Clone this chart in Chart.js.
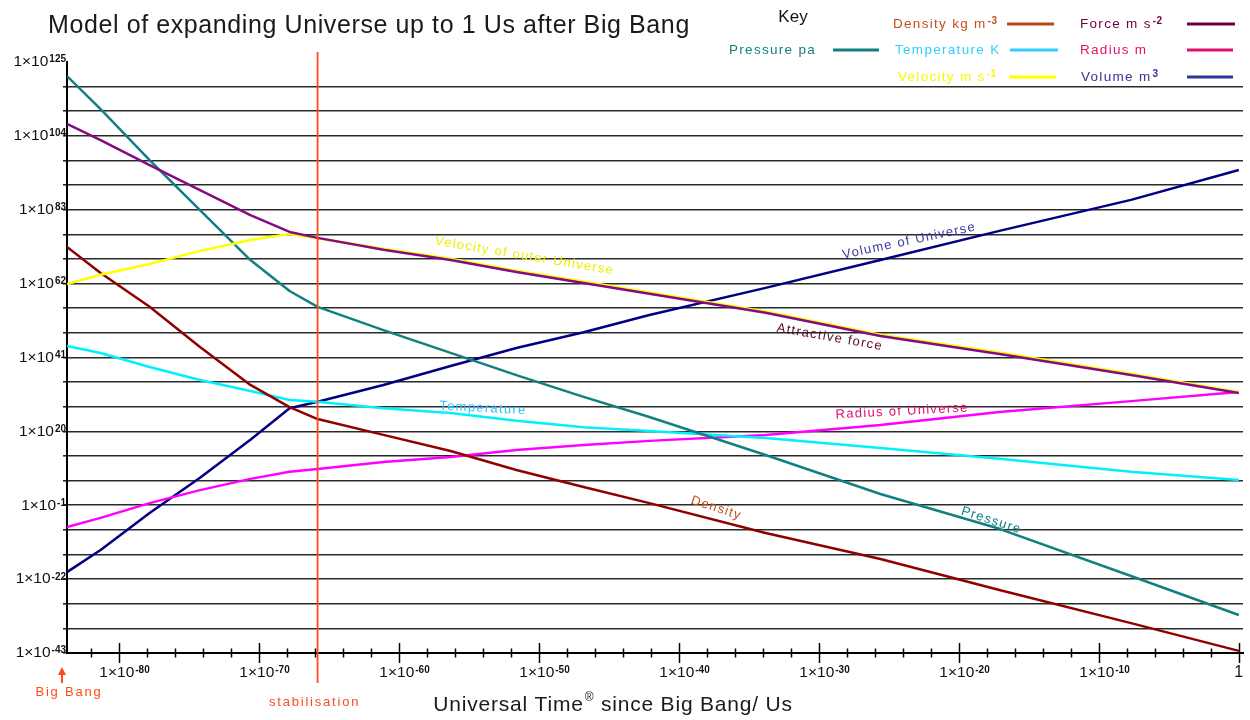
<!DOCTYPE html>
<html><head><meta charset="utf-8">
<script src="https://cdn.jsdelivr.net/npm/chart.js@4.4.1/dist/chart.umd.min.js"></script>
<style>html,body{margin:0;padding:0;background:#fff}#wrap{width:1250px;height:720px;position:relative}</style>
</head><body><div id="wrap"><canvas id="c"></canvas></div>
<script>
// time since Big Bang, as log10 of Us
const timeExp        = [-83.7,-81.3,-77.8,-74.2,-70.6,-67.8,-65.8,-61.1,-56.3,-51.6,-46.8,-42.1,-33.8,-25.6,-17.1,-7.7,0];
// series values as log10
const densityExp     = [72.4,65.0,55.4,44.0,33.2,26.9,23.5,19.0,14.4,9.0,4.2,-0.4,-8.9,-16.3,-25.1,-34.5,-42.4];
const pressureExp    = [121.0,111.6,97.1,82.9,68.7,59.9,55.4,48.8,42.3,36.0,29.8,24.1,13.3,2.2,-7.7,-21.1,-32.2];
const temperatureExp = [44.3,42.3,38.3,34.6,31.5,28.9,28.4,26.6,25.2,23.0,21.2,20.1,18.1,15.3,12.2,8.5,6.2];
const velocityExp    = [61.9,64.5,67.6,71.3,74.4,76.1,74.9,71.9,69.1,65.7,62.6,59.5,54.1,47.5,42.4,36.4,31.2];
const forceExp       = [107.4,102.8,95.7,88.6,81.5,76.7,75.0,71.6,68.7,65.3,62.2,59.1,53.7,47.1,42.0,36.0,30.9];
const radiusExp      = [-7.2,-4.6,-0.4,3.3,6.5,8.5,9.3,11.3,12.7,14.7,16.1,17.3,19.0,21.8,25.5,28.6,31.2];
const volumeExp      = [-20.0,-13.7,-3.2,6.8,17.6,26.6,28.4,33.2,38.6,43.7,48.2,53.1,60.8,68.7,77.0,85.8,94.3];

const stabilisationExp = -65.8;
const xMin = -83.7, xMax = 0.3;
const yMin = -43, yMax = 125;
const xMajorTicks = [-80,-70,-60,-50,-40,-30,-20,-10,0];
const xMinorStep = 2;
const yGridStep = 7;
const yLabelExps = [125,104,83,62,41,20,-1,-22,-43];

const annotations = [
  {text:'Velocity of outer Universe', x:-57.4, y:74.1, angle:9.5, color:'#eeee00'},
  {text:'Volume of Universe', x:-28.3, y:70.1, angle:-12, color:'#3a3a9a'},
  {text:'Attractive force', x:-33.0, y:49.4, angle:10, color:'#5a0a2a'},
  {text:'Radius of Universe', x:-28.8, y:24.7, angle:-3, color:'#e0106e'},
  {text:'Temperature', x:-57.1, y:27.2, angle:3, color:'#30c0ff'},
  {text:'Density', x:-39.1, y:0.5, angle:18, color:'#c05018'},
  {text:'Pressure', x:-19.8, y:-2.6, angle:18, color:'#108080'}
];

const legendItems = [
  {text:'Density kg m', sup:'-3', color:'#c0501c', line:'#b5481a', tx:893, ty:24, l1:1007, l2:1054},
  {text:'Force m s', sup:'-2', color:'#700040', line:'#6a0038', tx:1080, ty:24, l1:1187, l2:1235},
  {text:'Pressure pa', sup:'', color:'#108080', line:'#108080', tx:729, ty:50, l1:833, l2:879},
  {text:'Temperature K', sup:'', color:'#33ccff', line:'#33ccff', tx:895, ty:50, l1:1010, l2:1058},
  {text:'Radius m', sup:'', color:'#e0106a', line:'#e0106a', tx:1080, ty:50, l1:1187, l2:1233},
  {text:'Velocity m s', sup:'-1', color:'#f8f800', line:'#ffff00', tx:898, ty:77, l1:1009, l2:1056},
  {text:'Volume m', sup:'3', color:'#333399', line:'#333399', tx:1081, ty:77, l1:1187, l2:1233}
];

function pts(arr){ return timeExp.map((t,i)=>({x:t, y:arr[i]})); }
function ds(label, arr, color){
  return {label, data:pts(arr), borderColor:color, backgroundColor:color, borderWidth:2.5,
          showLine:true, pointRadius:0, tension:0, borderJoinStyle:'round', fill:false};
}

const FONT = '"Liberation Sans", Arial, sans-serif';

function setSpacing(ctx, v){ try{ ctx.letterSpacing = v; }catch(e){} }

function powText(ctx, base, sup, x, y, baseSize, supSize, color, align){
  ctx.save();
  ctx.fillStyle = color;
  ctx.font = baseSize + 'px ' + FONT;
  const wb = ctx.measureText(base).width;
  ctx.font = 'bold ' + supSize + 'px ' + FONT;
  const ws = sup ? ctx.measureText(sup).width + 1 : 0;
  let start = x;
  if (align === 'right') start = x - wb - ws;
  else if (align === 'center') start = x - (wb + ws)/2;
  ctx.textAlign = 'left';
  ctx.textBaseline = 'middle';
  ctx.font = baseSize + 'px ' + FONT;
  ctx.fillText(base, start, y);
  if (sup){
    ctx.font = 'bold ' + supSize + 'px ' + FONT;
    ctx.textBaseline = 'top';
    ctx.fillText(sup, start + wb + 1, y - baseSize*0.47);
  }
  ctx.restore();
  return wb + ws;
}

const deco = {
  id:'deco',
  afterDatasetsDraw(chart){
    const {ctx, scales:{x, y}, chartArea:ca} = chart;
    annotations.forEach(a=>{
      ctx.save();
      ctx.translate(x.getPixelForValue(a.x), y.getPixelForValue(a.y));
      ctx.rotate(a.angle*Math.PI/180);
      ctx.font = '13px ' + FONT;
      setSpacing(ctx, '1.3px');
      ctx.fillStyle = a.color;
      ctx.textAlign = 'left';
      ctx.textBaseline = 'middle';
      ctx.fillText(a.text, 0, 0);
      ctx.restore();
    });
    const sx = x.getPixelForValue(stabilisationExp);
    ctx.save();
    ctx.strokeStyle = '#ff4a1c';
    ctx.lineWidth = 1.8;
    ctx.beginPath();
    ctx.moveTo(sx, ca.top - 10);
    ctx.lineTo(sx, ca.bottom + 30);
    ctx.stroke();
    ctx.restore();
  },
  afterDraw(chart){
    const {ctx, scales:{x, y}, chartArea:ca} = chart;
    ctx.save();
    ctx.strokeStyle = '#000';
    ctx.lineWidth = 1.5;
    for (let v = xMajorTicks[0] - xMinorStep; v <= 0; v += xMinorStep){
      const px = Math.round(x.getPixelForValue(v)) + 0.5;
      const major = xMajorTicks.includes(v);
      const h = major ? 10 : 4.5;
      ctx.beginPath();
      ctx.moveTo(px, ca.bottom - h);
      ctx.lineTo(px, ca.bottom + h);
      ctx.stroke();
    }
    xMajorTicks.forEach(v=>{
      const px = x.getPixelForValue(v);
      if (v === 0){
        ctx.font = '16px ' + FONT;
        ctx.fillStyle = '#111';
        ctx.textAlign = 'center';
        ctx.textBaseline = 'middle';
        ctx.fillText('1', px, ca.bottom + 20);
      } else {
        ctx.font = '15.5px ' + FONT;
        const wb = ctx.measureText('1×10').width;
        powText(ctx, '1×10', String(v), px - 2 - wb/2, ca.bottom + 20, 15.5, 10, '#111', 'left');
      }
    });
    yLabelExps.forEach(v=>{
      powText(ctx, '1×10', String(v), ca.left - 1, y.getPixelForValue(v), 15.5, 10, '#111', 'right');
    });
    // title
    ctx.font = '25px ' + FONT;
    setSpacing(ctx, '0.6px');
    ctx.fillStyle = '#1a1a1a';
    ctx.textAlign = 'left';
    ctx.textBaseline = 'middle';
    ctx.fillText('Model of expanding Universe up to 1 Us after Big Bang', 48, 26);
    // x axis title
    setSpacing(ctx, '0.8px');
    ctx.font = '21px ' + FONT;
    const p1 = 'Universal Time', p3 = ' since Big Bang/ Us';
    const w1 = ctx.measureText(p1).width, w3 = ctx.measureText(p3).width;
    ctx.font = '12px ' + FONT;
    const w2 = ctx.measureText('®').width + 1;
    let sx = 613 - (w1+w2+w3)/2;
    const ty = 705;
    ctx.fillStyle = '#1a1a1a';
    ctx.font = '21px ' + FONT;
    ctx.fillText(p1, sx, ty);
    ctx.font = '12px ' + FONT;
    ctx.fillText('®', sx + w1 + 1, ty - 7);
    ctx.font = '21px ' + FONT;
    ctx.fillText(p3, sx + w1 + w2, ty);
    setSpacing(ctx, '0px');
    // Big Bang arrow & label
    const bx = x.getPixelForValue(xMin) - 5;
    ctx.fillStyle = '#ff4a1c';
    ctx.strokeStyle = '#ff4a1c';
    ctx.lineWidth = 2;
    ctx.beginPath();
    ctx.moveTo(bx, ca.bottom + 19);
    ctx.lineTo(bx, ca.bottom + 30);
    ctx.stroke();
    ctx.beginPath();
    ctx.moveTo(bx, ca.bottom + 14);
    ctx.lineTo(bx - 4, ca.bottom + 22);
    ctx.lineTo(bx + 4, ca.bottom + 22);
    ctx.closePath();
    ctx.fill();
    ctx.font = '13px ' + FONT;
    setSpacing(ctx, '1.8px');
    ctx.textAlign = 'center';
    ctx.fillText('Big Bang', bx + 7, ca.bottom + 39);
    ctx.fillText('stabilisation', x.getPixelForValue(stabilisationExp) - 3, ca.bottom + 49);
    setSpacing(ctx, '0px');
    // Key
    ctx.fillStyle = '#111';
    ctx.font = '17px ' + FONT;
    ctx.textAlign = 'center';
    ctx.fillText('Key', 793, 17);
    legendItems.forEach(it=>{
      ctx.textAlign = 'left';
      ctx.textBaseline = 'middle';
      ctx.font = '13.5px ' + FONT;
      setSpacing(ctx, '1.3px');
      ctx.fillStyle = it.color;
      ctx.fillText(it.text, it.tx, it.ty);
      const w = ctx.measureText(it.text).width;
      if (it.sup){
        ctx.font = 'bold 10px ' + FONT;
        setSpacing(ctx, '0.5px');
        ctx.textBaseline = 'top';
        ctx.fillText(it.sup, it.tx + w + 1, it.ty - 8);
      }
      setSpacing(ctx, '0px');
      ctx.strokeStyle = it.line;
      ctx.lineWidth = 3;
      ctx.beginPath();
      ctx.moveTo(it.l1, it.ty);
      ctx.lineTo(it.l2, it.ty);
      ctx.stroke();
    });
    ctx.restore();
  }
};

new Chart(document.getElementById('c'), {
  type:'scatter',
  data:{datasets:[
    ds('Force', forceExp, '#850a85'),
    ds('Velocity', velocityExp, '#ffff00'),
    ds('Pressure', pressureExp, '#118080'),
    ds('Density', densityExp, '#900000'),
    ds('Temperature', temperatureExp, '#00f0ff'),
    ds('Radius', radiusExp, '#ff00ff'),
    ds('Volume', volumeExp, '#000080')
  ]},
  options:{
    responsive:true, maintainAspectRatio:false, animation:false,
    layout:{padding:{left:0, right:7, top:62, bottom:0}},
    plugins:{legend:{display:false}, tooltip:{enabled:false}},
    scales:{
      x:{type:'linear', min:xMin, max:xMax,
         afterBuildTicks:s=>{ s.ticks = xMajorTicks.map(v=>({value:v})); },
         afterFit:s=>{ s.height = 67; },
         grid:{display:false},
         border:{display:true, color:'#000', width:2},
         ticks:{display:false}},
      y:{type:'linear', min:yMin, max:yMax,
         afterBuildTicks:s=>{ const t=[]; for(let v=yMin; v<=yMax; v+=yGridStep) t.push({value:v}); s.ticks=t; },
         afterFit:s=>{ s.width = 67; },
         grid:{color:c=> (c.tick && c.tick.value===yMax) ? 'rgba(0,0,0,0)' : '#2a2a2a', lineWidth:1.6, tickLength:4, drawTicks:true},
         border:{display:true, color:'#000', width:2},
         ticks:{display:false}}
    }
  },
  plugins:[deco]
});
</script></body></html>
